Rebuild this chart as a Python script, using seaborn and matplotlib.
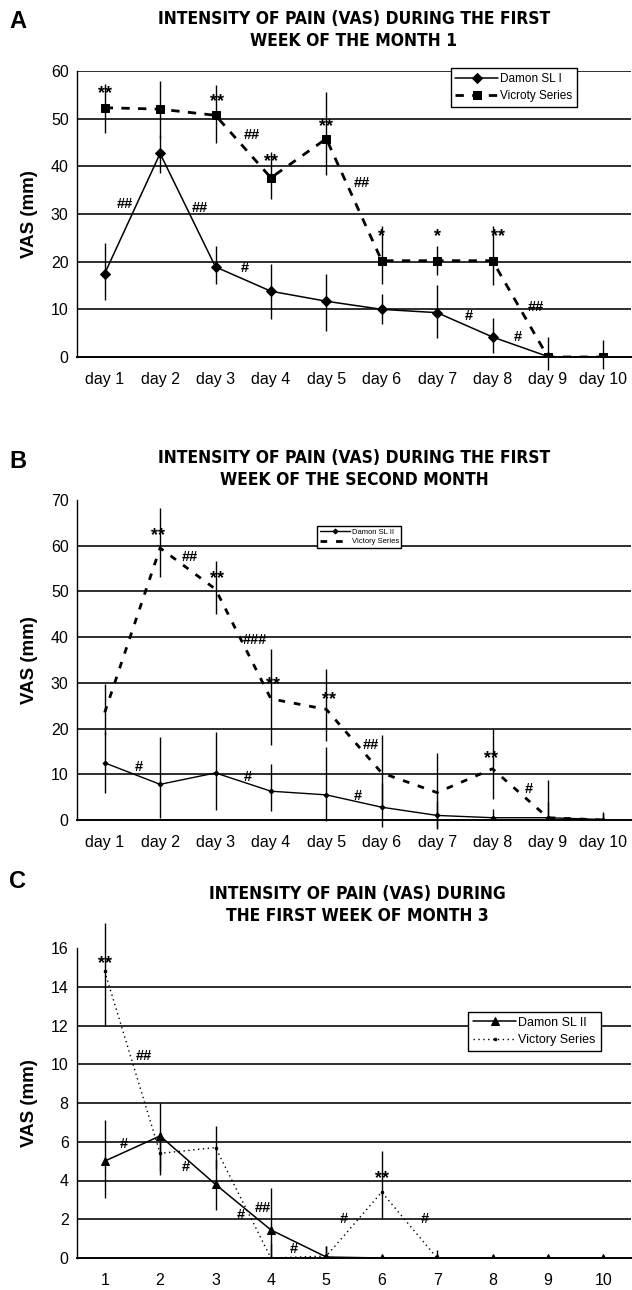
import numpy as np
import pandas as pd
import matplotlib
matplotlib.use("Agg")
import matplotlib.pyplot as plt
import seaborn as sns

sns.set_style("white")
plt.rcParams["font.family"] = ["Liberation Sans", "DejaVu Sans"]
plt.rcParams["text.color"] = "black"
plt.rcParams["xtick.color"] = "black"
plt.rcParams["ytick.color"] = "black"
plt.rcParams["axes.labelcolor"] = "black"

days = list(range(1, 11))
labels_day = [f"day {d}" for d in days]
labels_num = [str(d) for d in days]

# panel A - first week of month 1
a_damon = [17.5, 42.7, 18.9, 13.8, 11.7, 10.0, 9.3, 4.2, 0.1]
a_damon_lo = [12.0, 38.5, 15.3, 7.9, 5.5, 7.0, 3.9, 0.8, 0.1]
a_damon_hi = [24.0, 46.5, 23.2, 19.6, 17.5, 13.3, 15.2, 8.1, 0.1]
a_victory = [52.3, 52.0, 50.7, 37.6, 45.8, 20.2, 20.2, 20.2, 0.0, 0.0]
a_victory_lo = [47.0, 46.0, 45.0, 33.2, 38.2, 15.3, 17.2, 15.2, -2.8, -2.5]
a_victory_hi = [57.3, 58.0, 57.0, 43.0, 55.5, 27.5, 23.3, 27.5, 4.2, 3.5]
a_marks = [("**", 1.0, 55.2), ("**", 3.03, 53.6), ("##", 3.65, 46.5), ("**", 4.0, 41.0),
           ("**", 5.0, 48.4), ("##", 5.65, 36.4), ("##", 1.37, 32.2), ("##", 2.72, 31.3),
           ("*", 6.0, 25.3), ("*", 7.0, 25.3), ("**", 8.1, 25.3), ("#", 3.53, 18.7),
           ("#", 7.58, 8.6), ("#", 8.46, 4.3), ("##", 8.78, 10.4)]

# panel B - first week of the second month
b_damon = [12.5, 7.8, 10.3, 6.3, 5.5, 2.8, 1.0, 0.5, 0.5, 0.1]
b_damon_lo = [5.8, 0.5, 2.2, 2.0, -0.2, -1.5, -1.8, 0.0, 0.0, 0.0]
b_damon_hi = [19.3, 18.2, 19.3, 12.3, 16.0, 8.0, 4.2, 2.5, 4.0, 1.6]
b_victory = [23.5, 59.5, 50.5, 26.5, 24.2, 10.3, 6.0, 11.2, 0.5, 0.0]
b_victory_lo = [18.5, 53.2, 45.0, 16.5, 17.3, 3.5, -2.0, 4.5, 0.0, 0.0]
b_victory_hi = [29.7, 68.3, 56.7, 37.3, 33.0, 18.7, 14.7, 20.0, 8.8, 1.8]
b_marks = [("**", 1.97, 62.2), ("##", 2.54, 57.5), ("**", 3.03, 52.9), ("###", 3.72, 39.3),
           ("**", 4.04, 29.6), ("**", 5.04, 26.4), ("##", 5.8, 16.3), ("**", 7.98, 13.4),
           ("#", 1.61, 11.5), ("#", 3.59, 9.5), ("#", 5.56, 5.3), ("#", 8.65, 6.8)]

# panel C - first week of month 3
c_damon = [5.0, 6.3, 3.8, 1.45, 0.05, 0.0, 0.0, 0.0, 0.0, 0.0]
c_damon_lo = [3.1, 4.3, 2.5, 0.0, 0.0, 0.0, 0.0, 0.0, 0.0, 0.0]
c_damon_hi = [7.1, 8.0, 5.1, 3.6, 0.6, 0.0, 0.0, 0.0, 0.0, 0.0]
c_victory = [14.8, 5.4, 5.7, 0.0, 0.1, 3.4, 0.0]
c_victory_lo = [12.0, 4.5, 4.6, 0.0, 0.0, 2.0, 0.0]
c_victory_hi = [17.3, 6.1, 6.8, 0.8, 0.6, 5.5, 0.4]
c_marks = [("**", 1.0, 15.2), ("##", 1.71, 10.4), ("#", 1.34, 5.9), ("#", 2.47, 4.7),
           ("#", 3.46, 2.2), ("##", 3.86, 2.6), ("#", 4.42, 0.45), ("#", 5.31, 2.0),
           ("**", 6.0, 4.1), ("#", 6.78, 2.0)]

W, H = 632, 1290
fig = plt.figure(figsize=(W / 100, H / 100), dpi=100)


def px_axes(top, bottom, left=77, right=631):
    return fig.add_axes([left / W, 1 - bottom / H, (right - left) / W, (bottom - top) / H])


def draw_series(ax, vals, lo, hi, label, **style):
    x = days[:len(vals)]
    df = pd.DataFrame({"day": x, "vas": vals})
    sns.lineplot(data=df, x="day", y="vas", ax=ax, color="black", label=label,
                 markeredgecolor="black", markerfacecolor="black", **style)
    ax.vlines(x, lo, hi, color="black", lw=1.0, clip_on=False, zorder=3)


def setup_axes(ax, ymax, ystep, xlabels, grid_top):
    ax.set_xlim(0.5, 10.5)
    ax.set_ylim(0, ymax)
    yt = np.arange(0, ymax + 0.1, ystep)
    ax.set_yticks(yt)
    ax.set_yticklabels([f"{v:g}" for v in yt], fontsize=11.5)
    for v in yt[1:]:
        if v < ymax or grid_top:
            ax.axhline(v, color="#1e1e1e", lw=1.3, zorder=0)
    ax.set_xticks(days)
    ax.set_xticklabels(xlabels, fontsize=11.5)
    ax.set_xticks(np.arange(0.5, 10.6, 1.0), minor=True)
    ax.tick_params(axis="x", which="major", length=0, pad=11)
    ax.tick_params(axis="x", which="minor", length=5, width=1, direction="out", color="black")
    ax.tick_params(axis="y", length=4, width=1, direction="out", color="black", pad=2)
    for s in ["top", "right"]:
        ax.spines[s].set_visible(False)
    ax.spines["left"].set_color("black")
    ax.spines["bottom"].set_color("black")
    ax.spines["left"].set_linewidth(1.0)
    ax.spines["bottom"].set_linewidth(1.4)
    ax.set_xlabel("")
    ax.set_ylabel("")


def put_marks(ax, marks):
    for txt, x, y in marks:
        size = 13 if "*" in txt else 10.5
        ax.text(x, y, txt, ha="center", va="center", fontsize=size, fontweight="bold",
                color="black", zorder=5)


title_font = dict(family="DejaVu Sans", fontstretch="condensed", fontweight="bold",
                  fontsize=12.5, ha="center", va="center", linespacing=1.3, color="black")

# ---- A
axA = px_axes(71, 357)
draw_series(axA, a_damon, a_damon_lo, a_damon_hi, "Damon SL I", lw=1.1, marker="D", markersize=5)
draw_series(axA, a_victory, a_victory_lo, a_victory_hi, "Vicroty Series", lw=2.0,
            linestyle=(0, (3, 3)), marker="s", markersize=6)
setup_axes(axA, 60, 10, labels_day, True)
put_marks(axA, a_marks)
h, l = axA.get_legend_handles_labels()
axA.legend(h, l, loc="upper left", bbox_to_anchor=(0.664, 1.03), fontsize=8.5,
           frameon=True, fancybox=False, edgecolor="black", framealpha=1, handlelength=3.6,
           borderpad=0.4, labelspacing=0.45, handletextpad=0.2)

# ---- B
axB = px_axes(500, 820)
draw_series(axB, b_damon, b_damon_lo, b_damon_hi, "Damon SL II", lw=1.0, marker="D", markersize=2.5)
draw_series(axB, b_victory, b_victory_lo, b_victory_hi, "Victory Series", lw=2.0,
            linestyle=(0, (2.4, 3.2)))
setup_axes(axB, 70, 10, labels_day, False)
put_marks(axB, b_marks)
h, l = axB.get_legend_handles_labels()
axB.legend(h, l, loc="upper left", bbox_to_anchor=(0.427, 0.93), fontsize=5.5,
           frameon=True, fancybox=False, edgecolor="black", framealpha=1, handlelength=4,
           borderpad=0.3, labelspacing=0.3, handletextpad=0.2)

# ---- C
axC = px_axes(948, 1258)
draw_series(axC, c_damon, c_damon_lo, c_damon_hi, "Damon SL II", lw=1.1, marker="^", markersize=6)
draw_series(axC, c_victory, c_victory_lo, c_victory_hi, "Victory Series", lw=1.0,
            linestyle=(0, (1, 2.5)), marker="o", markersize=1.8)
setup_axes(axC, 16, 2, labels_num, False)
put_marks(axC, c_marks)
h, l = axC.get_legend_handles_labels()
axC.legend(h, l, loc="upper left", bbox_to_anchor=(0.695, 0.815), fontsize=9,
           frameon=True, fancybox=False, edgecolor="black", framealpha=1, handlelength=3.4,
           borderpad=0.4, labelspacing=0.45, handletextpad=0.2)

# titles, panel letters, y labels
fig.text(354 / W, 1 - 30 / H, "INTENSITY OF PAIN (VAS) DURING THE FIRST\nWEEK OF THE MONTH 1", **title_font)
fig.text(354 / W, 1 - 469 / H, "INTENSITY OF PAIN (VAS) DURING THE FIRST\nWEEK OF THE SECOND MONTH", **title_font)
fig.text(357 / W, 1 - 905 / H, "INTENSITY OF PAIN (VAS) DURING\nTHE FIRST WEEK OF MONTH 3", **title_font)
for letter, y in [("A", 21), ("B", 462), ("C", 882)]:
    fig.text(18 / W, 1 - y / H, letter, fontsize=17, fontweight="bold", ha="center", va="center")
for ax in (axA, axB, axC):
    pos = ax.get_position()
    fig.text(29 / W, pos.y0 + pos.height / 2, "VAS (mm)", rotation=90, fontsize=13.5,
             fontweight="bold", ha="center", va="center")

fig.savefig("out.png", dpi=100)
